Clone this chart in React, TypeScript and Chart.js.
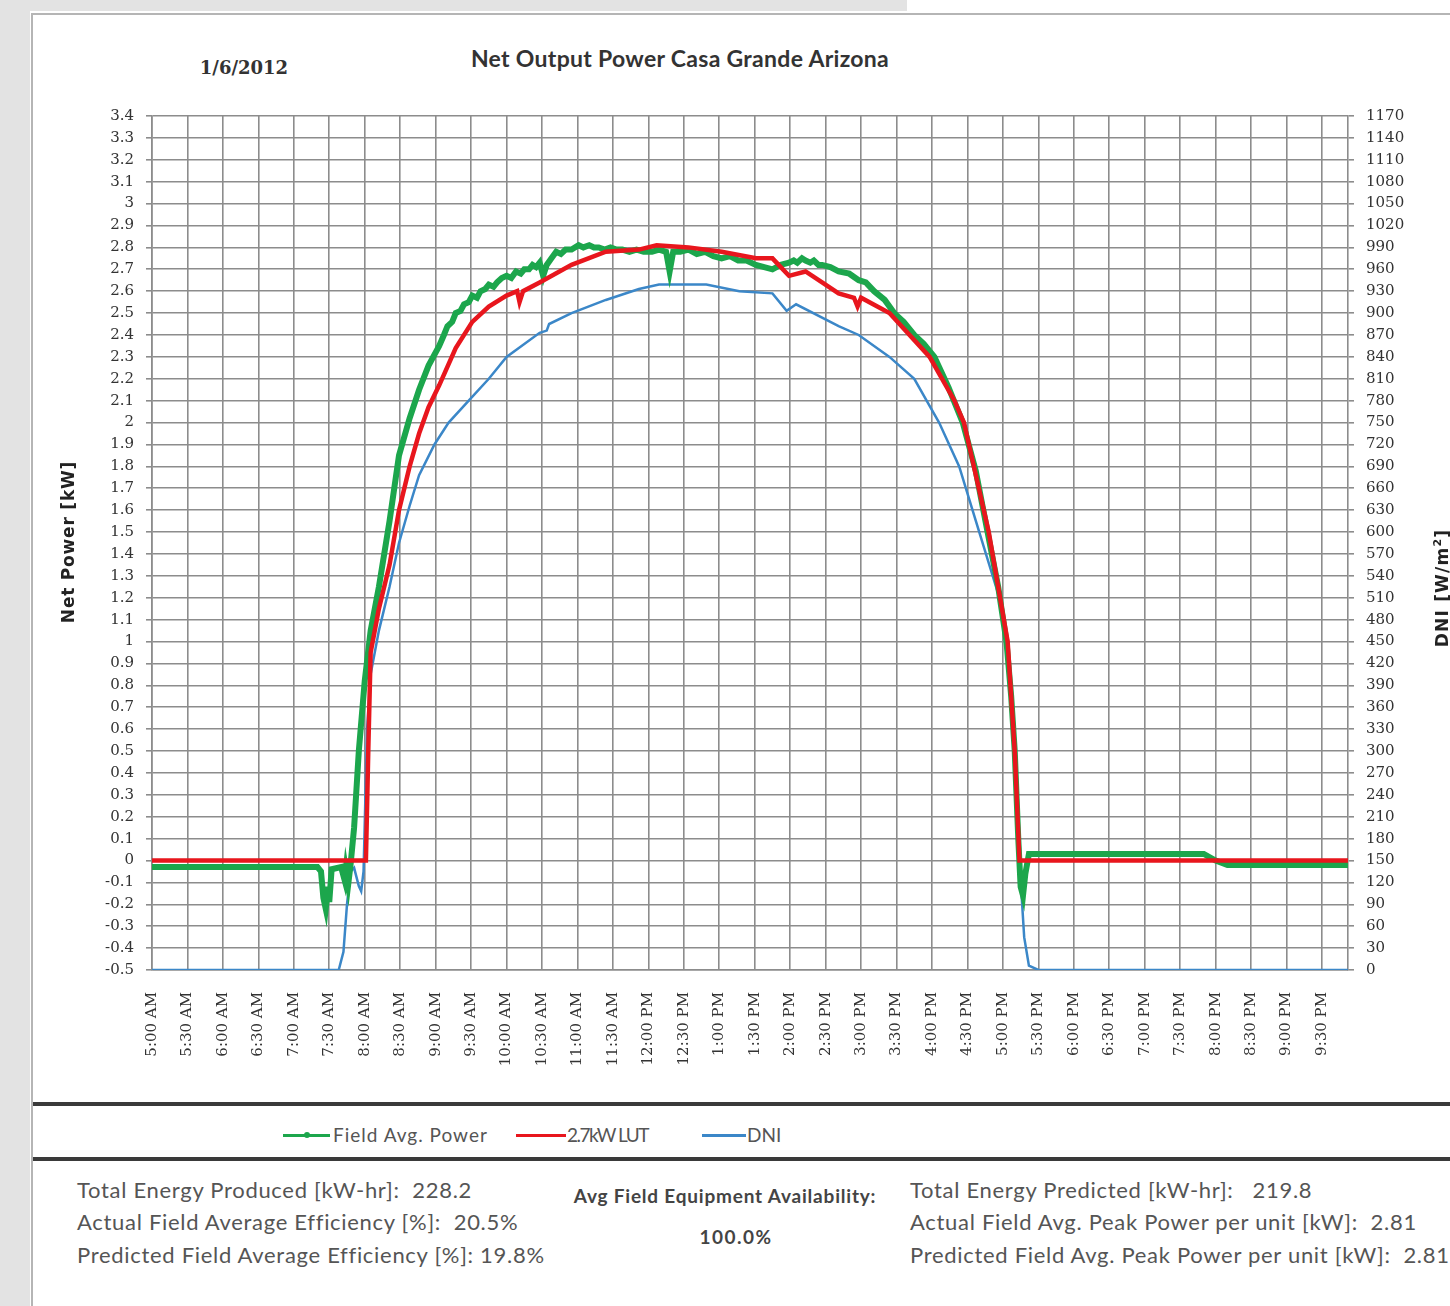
import React, { useEffect, useRef } from "react";
import { Chart, registerables } from "chart.js";

Chart.register(...registerables);

// ---------- data ----------
const xTickLabels = [
  "5:00 AM", "5:30 AM", "6:00 AM", "6:30 AM", "7:00 AM", "7:30 AM", "8:00 AM", "8:30 AM",
  "9:00 AM", "9:30 AM", "10:00 AM", "10:30 AM", "11:00 AM", "11:30 AM", "12:00 PM", "12:30 PM",
  "1:00 PM", "1:30 PM", "2:00 PM", "2:30 PM", "3:00 PM", "3:30 PM", "4:00 PM", "4:30 PM",
  "5:00 PM", "5:30 PM", "6:00 PM", "6:30 PM", "7:00 PM", "7:30 PM", "8:00 PM", "8:30 PM",
  "9:00 PM", "9:30 PM",
];

const fieldTimes = [
  "5:00", "7:20", "7:23", "7:25", "7:27", "7:29", "7:30", "7:32", "7:40", "7:43", "7:44", "7:46",
  "7:48", "7:51", "7:55", "8:00", "8:05", "8:12", "8:21", "8:29", "8:38", "8:46", "8:54", "9:03",
  "9:07", "9:10", "9:14", "9:17", "9:21", "9:24", "9:28", "9:31", "9:35", "9:38", "9:42", "9:45",
  "9:49", "9:52", "9:56", "10:00", "10:04", "10:08", "10:12", "10:15", "10:19", "10:22", "10:25",
  "10:28", "10:31", "10:34", "10:38", "10:42", "10:46", "10:50", "10:55", "11:01", "11:05",
  "11:10", "11:14", "11:18", "11:23", "11:28", "11:33", "11:38", "11:44", "11:50", "11:56",
  "12:03", "12:09", "12:15", "12:18", "12:21", "12:27", "12:34", "12:41", "12:48", "12:55",
  "13:02", "13:09", "13:16", "13:23", "13:31", "13:38", "13:45", "13:52", "13:59", "14:03",
  "14:06", "14:10", "14:13", "14:17", "14:20", "14:24", "14:27", "14:34", "14:41", "14:50",
  "14:58", "15:04", "15:11", "15:20", "15:28", "15:36", "15:45", "15:53", "16:02", "16:14",
  "16:26", "16:37", "16:47", "16:56", "17:03", "17:07", "17:10", "17:13", "17:15", "17:17",
  "17:19", "17:22", "19:50", "20:00", "20:10", "21:52",
];
const fieldPower = [
  -0.03, -0.03, -0.05, -0.17, -0.22, -0.12, -0.19, -0.04, -0.03, -0.09, -0.04, -0.11,
  -0.02, 0.15, 0.5, 0.82, 1.05, 1.25, 1.55, 1.85, 2.02, 2.15, 2.26, 2.35,
  2.4, 2.44, 2.46, 2.5, 2.51, 2.54, 2.55, 2.58, 2.57, 2.6, 2.61, 2.63,
  2.62, 2.64, 2.66, 2.67, 2.66, 2.69, 2.68, 2.7, 2.7, 2.72, 2.71,
  2.73, 2.67, 2.72, 2.75, 2.78, 2.77, 2.79, 2.79, 2.81, 2.8,
  2.81, 2.8, 2.8, 2.79, 2.8, 2.79, 2.79, 2.78, 2.79, 2.78,
  2.78, 2.79, 2.78, 2.69, 2.78, 2.78, 2.79, 2.77, 2.78, 2.76,
  2.75, 2.76, 2.74, 2.74, 2.72, 2.71, 2.7, 2.72, 2.73, 2.74,
  2.73, 2.75, 2.74, 2.73, 2.74, 2.72, 2.72, 2.71, 2.69, 2.68,
  2.65, 2.64, 2.6, 2.56, 2.5, 2.46, 2.4, 2.36, 2.3, 2.16,
  2.0, 1.78, 1.5, 1.25, 1.0, 0.75, 0.5, 0.1, -0.12, -0.16,
  -0.06, 0.03, 0.03, 0.0, -0.02, -0.02,
];

const lutTimes = [
  "5:00", "8:01", "8:03", "8:05", "8:12", "8:21", "8:29", "8:38", "8:46", "8:54", "9:03", "9:17",
  "9:31", "9:45", "10:00", "10:09", "10:11", "10:14", "10:28", "10:55", "11:24", "11:52", "12:07",
  "12:34", "13:02", "13:31", "13:45", "13:59", "14:13", "14:27", "14:41", "14:54", "14:57",
  "15:00", "15:24", "15:58", "16:19", "16:27", "16:48", "17:04", "17:10", "17:14", "21:52",
];
const lutPower = [
  0, 0, 0.5, 0.95, 1.15, 1.35, 1.6, 1.8, 1.95, 2.07, 2.17, 2.34,
  2.46, 2.53, 2.58, 2.6, 2.55, 2.6, 2.64, 2.72, 2.78, 2.79, 2.81,
  2.8, 2.78, 2.75, 2.75, 2.67, 2.69, 2.64, 2.59, 2.57, 2.53,
  2.57, 2.5, 2.3, 2.1, 2.0, 1.5, 1.0, 0.5, 0, 0,
];

const dniTimes = [
  "5:00", "7:38", "7:42", "7:45", "7:48", "7:51", "7:55", "7:57", "7:59", "8:02", "8:05", "8:12",
  "8:21", "8:29", "8:38", "8:46", "8:59", "9:11", "9:28", "9:45", "10:00", "10:28", "10:34",
  "10:36", "10:55", "11:24", "11:52", "12:09", "12:49", "13:17", "13:45", "13:57", "14:05",
  "14:41", "14:58", "15:24", "15:45", "16:06", "16:23", "16:40", "16:57", "17:03", "17:10",
  "17:14", "17:18", "17:22", "17:30", "21:52",
];
const dniValues = [
  0, 0, 25, 90, 135, 140, 115, 108, 135, 330, 405, 465,
  525, 585, 636, 678, 720, 750, 780, 810, 840, 873, 876,
  885, 900, 918, 933, 939, 939, 930, 927, 903, 912,
  882, 870, 840, 810, 750, 690, 600, 510, 450, 300,
  150, 45, 6, 0, 0,
];

const seriesNames = ["Field Avg. Power", "2.7kW LUT", "DNI"];
const seriesColors = ["#1ca64c", "#e8161d", "#3b87c8"];

// ---------- helpers ----------
const toMinutes = (t: string) => {
  const [h, m] = t.split(":").map(Number);
  return (h - 5) * 60 + m;
};
const toPoints = (times: string[], vals: number[]) =>
  times.map((t, i) => ({ x: toMinutes(t), y: vals[i] }));

const GRID = "#8c8c8c";
const TICK_FONT = { family: "'DejaVu Serif', serif", size: 15 };
const TEXT_FONT = "Lato, 'Open Sans', sans-serif";

export default function App() {
  const canvasRef = useRef<HTMLCanvasElement | null>(null);

  useEffect(() => {
    if (!canvasRef.current) return;
    const chart = new Chart(canvasRef.current, {
      type: "line",
      data: {
        datasets: [
          {
            label: seriesNames[0],
            data: toPoints(fieldTimes, fieldPower),
            borderColor: seriesColors[0],
            backgroundColor: seriesColors[0],
            borderWidth: 6,
            pointRadius: 0,
            yAxisID: "y",
            order: 1,
          },
          {
            label: seriesNames[1],
            data: toPoints(lutTimes, lutPower),
            borderColor: seriesColors[1],
            backgroundColor: seriesColors[1],
            borderWidth: 4.5,
            pointRadius: 0,
            yAxisID: "y",
            order: 0,
          },
          {
            label: seriesNames[2],
            data: toPoints(dniTimes, dniValues),
            borderColor: seriesColors[2],
            backgroundColor: seriesColors[2],
            borderWidth: 2.5,
            pointRadius: 0,
            yAxisID: "y1",
            order: 2,
          },
        ],
      },
      options: {
        responsive: false,
        animation: false,
        layout: { padding: { top: 18, left: 0, right: 0, bottom: 0 } },
        plugins: { legend: { display: false }, tooltip: { enabled: false }, title: { display: false } },
        scales: {
          x: {
            type: "linear",
            min: 0,
            max: 1012,
            grid: { color: GRID, lineWidth: 1.6, drawTicks: false },
            border: { color: GRID, width: 1.6 },
            ticks: {
              stepSize: 30,
              includeBounds: false,
              autoSkip: false,
              maxRotation: 90,
              minRotation: 90,
              padding: 22,
              color: "#333",
              font: TICK_FONT,
              callback: (v: any) => xTickLabels[Math.round(Number(v) / 30)] ?? "",
            },
            afterFit: (s: any) => {
              s.height = 125;
            },
          },
          y: {
            type: "linear",
            position: "left",
            min: -0.5,
            max: 3.4,
            grid: { color: GRID, lineWidth: 1.6, tickLength: 6 },
            border: { color: GRID, width: 1.6 },
            ticks: {
              stepSize: 0.1,
              autoSkip: false,
              padding: 12,
              color: "#333",
              font: TICK_FONT,
              callback: (v: any) => String(Number(Number(v).toFixed(1))),
            },
            afterFit: (s: any) => {
              s.width = 112;
            },
          },
          y1: {
            type: "linear",
            position: "right",
            min: 0,
            max: 1170,
            grid: { drawOnChartArea: false, color: GRID, lineWidth: 1.6, tickLength: 6 },
            border: { color: GRID, width: 1.6 },
            ticks: {
              stepSize: 30,
              autoSkip: false,
              padding: 12,
              color: "#333",
              font: TICK_FONT,
              callback: (v: any) => String(Math.round(Number(v))),
            },
            afterFit: (s: any) => {
              s.width = 102;
            },
          },
        },
      },
    });
    return () => chart.destroy();
  }, []);

  const abs = (style: React.CSSProperties): React.CSSProperties => ({ position: "absolute", ...style });
  const statStyle: React.CSSProperties = {
    position: "absolute",
    fontFamily: TEXT_FONT,
    fontSize: 22,
    letterSpacing: "0.7px",
    lineHeight: "26px",
    color: "#555",
    whiteSpace: "pre",
  };

  const legendItems = [
    { lineLeft: 283, lineWidth: 47, textLeft: 333, dot: true, spacing: "1px" },
    { lineLeft: 516, lineWidth: 50, textLeft: 567, dot: false, spacing: "-1.5px" },
    { lineLeft: 702, lineWidth: 44, textLeft: 747, dot: false, spacing: "0px" },
  ];

  return (
    <div style={abs({ left: 0, top: 0, width: 1450, height: 1306, background: "#fff", overflow: "hidden" })}>
      {/* slide background */}
      <div style={abs({ left: 0, top: 0, width: 30, height: 1306, background: "#e3e3e3" })} />
      <div style={abs({ left: 0, top: 0, width: 907, height: 11, background: "#e3e3e3" })} />
      <div style={abs({ left: 31, top: 13, width: 1419, height: 2, background: "#b5b5b5" })} />
      <div style={abs({ left: 31, top: 13, width: 2, height: 1293, background: "#b5b5b5" })} />

      {/* headings */}
      <div
        style={abs({
          left: 440, top: 44, width: 480, textAlign: "center",
          fontFamily: TEXT_FONT, fontWeight: 700, fontSize: 23, letterSpacing: "0.3px", lineHeight: "28px", color: "#333",
        })}
      >
        Net Output Power Casa Grande Arizona
      </div>
      <div
        style={abs({
          left: 190, top: 56, width: 108, textAlign: "center",
          fontFamily: "'DejaVu Serif', serif", fontWeight: 700, fontSize: 18, lineHeight: "24px", color: "#333",
        })}
      >
        1/6/2012
      </div>

      {/* chart */}
      <canvas ref={canvasRef} width={1410} height={1000} style={abs({ left: 40, top: 95, width: 1410, height: 1000 })} />

      {/* axis titles */}
      <div
        style={abs({
          left: 68 - 110, top: 542 - 12, width: 220, height: 24, lineHeight: "24px", textAlign: "center",
          transform: "rotate(-90deg)", fontFamily: "'DejaVu Sans', sans-serif", fontWeight: 700, fontSize: 17,
          letterSpacing: "0.8px", color: "#222",
        })}
      >
        Net Power [kW]
      </div>
      <div
        style={abs({
          left: 1438 - 110, top: 588 - 12, width: 220, height: 24, lineHeight: "24px", textAlign: "center",
          transform: "rotate(-90deg)", fontFamily: "'DejaVu Sans', sans-serif", fontWeight: 700, fontSize: 17,
          letterSpacing: "1.2px", color: "#222",
        })}
      >
        DNI [W/m<sup style={{ fontSize: 11 }}>2</sup>]
      </div>

      {/* separators */}
      <div style={abs({ left: 33, top: 1102, width: 1417, height: 4, background: "#3a3a3a" })} />
      <div style={abs({ left: 33, top: 1157, width: 1417, height: 4, background: "#3a3a3a" })} />

      {/* legend */}
      {legendItems.map((it, i) => (
        <React.Fragment key={i}>
          <div style={abs({ left: it.lineLeft, top: 1134, width: it.lineWidth, height: 3, background: seriesColors[i] })} />
          {it.dot && (
            <div
              style={abs({
                left: it.lineLeft + it.lineWidth / 2 - 3, top: 1132, width: 6, height: 6, borderRadius: 3, background: seriesColors[i],
              })}
            />
          )}
          <div
            style={abs({
              left: it.textLeft, top: 1122, fontFamily: TEXT_FONT, fontSize: 19, letterSpacing: it.spacing,
              lineHeight: "26px", color: "#555", whiteSpace: "pre",
            })}
          >
            {seriesNames[i]}
          </div>
        </React.Fragment>
      ))}

      {/* statistics */}
      <div style={{ ...statStyle, left: 77, top: 1177 }}>Total Energy Produced [kW-hr]:  228.2</div>
      <div style={{ ...statStyle, left: 77, top: 1209 }}>Actual Field Average Efficiency [%]:  20.5%</div>
      <div style={{ ...statStyle, left: 77, top: 1242 }}>Predicted Field Average Efficiency [%]: 19.8%</div>

      <div
        style={abs({
          left: 545, top: 1184, width: 360, textAlign: "center", fontFamily: TEXT_FONT, fontWeight: 700,
          fontSize: 19, letterSpacing: "0.8px", lineHeight: "24px", color: "#444", whiteSpace: "pre",
        })}
      >
        Avg Field Equipment Availability:
      </div>
      <div
        style={abs({
          left: 661, top: 1225, width: 150, textAlign: "center", fontFamily: TEXT_FONT, fontWeight: 700,
          fontSize: 19, letterSpacing: "1.5px", lineHeight: "24px", color: "#444",
        })}
      >
        100.0%
      </div>

      <div style={{ ...statStyle, left: 910, top: 1177 }}>Total Energy Predicted [kW-hr]:   219.8</div>
      <div style={{ ...statStyle, left: 910, top: 1209 }}>Actual Field Avg. Peak Power per unit [kW]:  2.81</div>
      <div style={{ ...statStyle, left: 910, top: 1242 }}>Predicted Field Avg. Peak Power per unit [kW]:  2.81</div>
    </div>
  );
}
